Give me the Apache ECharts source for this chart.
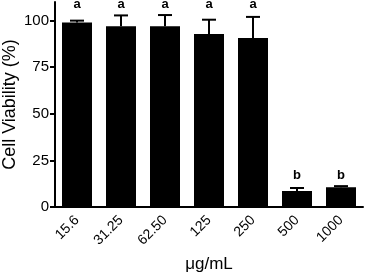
<!DOCTYPE html>
<html>
<head>
<meta charset="utf-8">
<script src="https://cdn.jsdelivr.net/npm/echarts@6/dist/echarts.min.js"></script>
<style>
  html, body { margin: 0; padding: 0; background: #fff; }
  #chart { width: 365px; height: 273px; }
</style>
</head>
<body>
<div id="chart"></div>
<script>
// concentrations and values
const doses = ["15.6", "31.25", "62.50", "125", "250", "500", "1000"];
const viability = [99, 97, 97, 92.8, 90.7, 8.6, 10.6];
const errUp = [1, 5.8, 6, 7.7, 11.3, 1.6, 0.6];
const letters = ["a", "a", "a", "a", "a", "b", "b"];
const letterLevel = [108.6, 108.6, 108.6, 108.6, 108.6, 16.7, 16.7];
const yTicks = [0, 25, 50, 75, 100];

const font = "Liberation Sans, Arial, Helvetica, sans-serif";

let chart = echarts.init(document.getElementById("chart"));

let errData = [];
for (let i = 0; i < doses.length; i++) {
  errData.push([i, viability[i], viability[i] + errUp[i], letterLevel[i], letters[i]]);
}

let option = {
  animation: false,
  grid: { left: 55, right: 2, top: 2, bottom: 66, outerBoundsMode: "none", containLabel: false },
  xAxis: {
    type: "category",
    data: doses,
    name: "μg/mL",
    nameLocation: "middle",
    nameGap: 49,
    nameMoveOverlap: false,
    nameTextStyle: { color: "#000", fontSize: 17, fontFamily: font },
    axisLine: { lineStyle: { color: "#000", width: 2 } },
    axisTick: { alignWithLabel: true, length: 5, lineStyle: { color: "#000", width: 2 } },
    axisLabel: { rotate: 45, color: "#000", fontSize: 14, fontFamily: font, margin: 11 },
  },
  yAxis: {
    type: "value",
    min: 0,
    max: 110,
    interval: 25,
    name: "Cell Viability (%)",
    nameLocation: "middle",
    nameGap: 36,
    nameMoveOverlap: false,
    nameTextStyle: { color: "#000", fontSize: 18, fontFamily: font },
    splitLine: { show: false },
    axisLine: { show: true, lineStyle: { color: "#000", width: 2 } },
    axisTick: { show: true, length: 5, customValues: yTicks, lineStyle: { color: "#000", width: 2 } },
    axisLabel: { color: "#000", fontSize: 15, fontFamily: font, margin: 6, customValues: yTicks },
  },
  series: [
    {
      type: "bar",
      data: viability,
      barWidth: 30,
      itemStyle: { color: "#000" },
    },
    {
      type: "custom",
      data: errData,
      z: 3,
      renderItem: function (params, api) {
        let x = api.coord([api.value(0), api.value(1)])[0];
        let yLow = api.coord([api.value(0), api.value(1)])[1];
        let yHigh = api.coord([api.value(0), api.value(2)])[1];
        let yText = api.coord([api.value(0), api.value(3)])[1];
        let style = { stroke: "#000", lineWidth: 2 };
        return {
          type: "group",
          children: [
            { type: "line", shape: { x1: x, y1: yLow, x2: x, y2: yHigh }, style: style },
            { type: "line", shape: { x1: x - 7, y1: yHigh, x2: x + 7, y2: yHigh }, style: style },
            {
              type: "text",
              style: {
                text: api.value(4),
                x: x,
                y: yText,
                textAlign: "center",
                textVerticalAlign: "middle",
                fill: "#000",
                font: "bold 13px " + font,
              },
            },
          ],
        };
      },
    },
  ],
};

chart.setOption(option);
</script>
</body>
</html>
